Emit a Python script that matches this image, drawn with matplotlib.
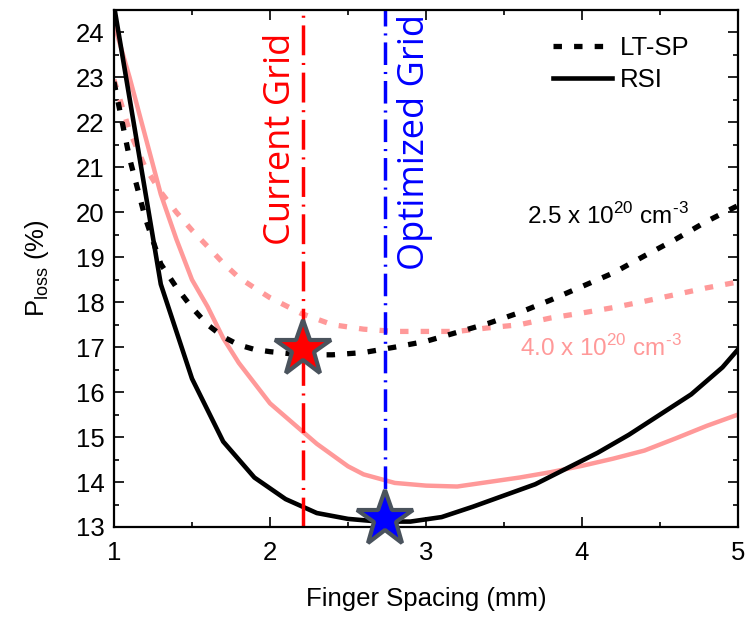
import matplotlib
matplotlib.use('Agg')
import matplotlib.pyplot as plt
from matplotlib.ticker import MultipleLocator

plt.rcParams['font.family'] = ['Liberation Sans', 'DejaVu Sans']
plt.rcParams['mathtext.fontset'] = 'custom'
plt.rcParams['mathtext.rm'] = 'Liberation Sans'

# RSI curves (solid)
x_rsi_25 = [1.0, 1.3, 1.5, 1.7, 1.9, 2.1, 2.3, 2.5, 2.7, 2.9, 3.1, 3.3, 3.5,
            3.7, 3.9, 4.1, 4.3, 4.5, 4.7, 4.9, 5.0]
y_rsi_25 = [24.6, 18.4, 16.3, 14.9, 14.1, 13.62, 13.31, 13.18, 13.12, 13.12,
            13.22, 13.45, 13.70, 13.95, 14.3, 14.65, 15.05, 15.5, 15.95,
            16.55, 16.95]

x_rsi_40 = [1.0, 1.1, 1.2, 1.3, 1.4, 1.5, 1.6, 1.7, 1.8, 1.9, 2.0, 2.1, 2.2,
            2.3, 2.4, 2.5, 2.6, 2.8, 3.0, 3.2, 3.4, 3.6, 3.8, 4.0, 4.2, 4.4,
            4.6, 4.8, 5.0]
y_rsi_40 = [24.2, 23.0, 21.7, 20.4, 19.4, 18.5, 17.9, 17.2, 16.65, 16.2,
            15.75, 15.45, 15.15, 14.85, 14.6, 14.35, 14.17, 13.98, 13.92,
            13.9, 14.0, 14.1, 14.22, 14.36, 14.52, 14.7, 14.97, 15.25, 15.5]

# LT-SP curves (dotted)
x_ltsp = [1.0, 1.1, 1.2, 1.3, 1.4, 1.5, 1.6, 1.7, 1.8, 1.9, 2.0, 2.2, 2.4,
          2.6, 2.8, 3.0, 3.2, 3.4, 3.6, 3.8, 4.0, 4.2, 4.4, 4.6, 4.8, 5.0]
y_ltsp_25 = [22.9, 21.2, 19.88, 18.85, 18.33, 17.88, 17.5, 17.23, 17.05,
             16.95, 16.9, 16.83, 16.83, 16.88, 17.0, 17.13, 17.33, 17.53,
             17.77, 18.05, 18.35, 18.65, 19.03, 19.4, 19.8, 20.15]
y_ltsp_40 = [22.95, 21.8, 21.0, 20.45, 20.0, 19.6, 19.24, 18.87, 18.55, 18.32,
             18.1, 17.75, 17.5, 17.4, 17.35, 17.35, 17.35, 17.43, 17.5, 17.65,
             17.76, 17.88, 18.02, 18.17, 18.32, 18.45]

# grid designs
current_x, current_y = 2.21, 16.97
optimized_x, optimized_y = 2.74, 13.17

pink = '#ff9999'
fs = 18.5

fig = plt.figure(figsize=(7.46, 6.17), dpi=100)
ax = fig.add_axes([0.1528, 0.1459, 0.9893 - 0.1528, 0.9838 - 0.1459])

dots = (0, (1.6, 2.3))
ax.plot(x_ltsp, y_ltsp_40, color=pink, lw=3.8, ls=dots)
ax.plot(x_rsi_40, y_rsi_40, color=pink, lw=3.2)
ax.plot(x_ltsp, y_ltsp_25, color='black', lw=3.8, ls=dots, label='LT-SP')
ax.plot(x_rsi_25, y_rsi_25, color='black', lw=3.3, label='RSI')

ax.axvline(current_x, color='red', lw=2.5, dashes=(8.6, 2.2, 0.6, 2.2))
ax.axvline(optimized_x, color='blue', lw=2.5, dashes=(6.5, 2.0, 0.6, 2.0))

ax.plot(current_x, current_y, marker='*', ms=42, mfc='red', mec='#4a535d',
        mew=3, zorder=5)
ax.plot(optimized_x, optimized_y, marker='*', ms=42, mfc='blue',
        mec='#4a535d', mew=3, zorder=5, clip_on=False)

ax.text(2.07, 24.0, 'Current Grid', rotation=90, color='red', fontsize=26,
        family=['Open Sans', 'DejaVu Sans'], ha='center', va='top')
ax.text(2.93, 24.42, 'Optimized Grid', rotation=90, color='blue', fontsize=26,
        family=['Open Sans', 'DejaVu Sans'], ha='center', va='top')

ax.text(3.65, 19.75, r'2.5 x 10$^{20}$ cm$^{\text{-3}}$', fontsize=17.5,
        color='black')
ax.text(3.6, 16.8, r'4.0 x 10$^{20}$ cm$^{\text{-3}}$', fontsize=17.5,
        color=pink)

ax.legend(loc='upper left', bbox_to_anchor=(0.7035, 0.95), frameon=False,
          fontsize=fs, handlelength=2.3, handletextpad=0.3,
          labelspacing=0.3, borderaxespad=0, borderpad=0)

ax.set_xlim(1, 5)
ax.set_ylim(13, 24.5)
ax.xaxis.set_major_locator(MultipleLocator(1))
ax.xaxis.set_minor_locator(MultipleLocator(0.5))
ax.yaxis.set_major_locator(MultipleLocator(1))
ax.yaxis.set_minor_locator(MultipleLocator(0.5))
ax.tick_params(which='both', direction='in', top=True, right=True,
               labelsize=fs, width=1.2)
ax.tick_params(which='major', length=7)
ax.tick_params(which='minor', length=3.5)
ax.tick_params(axis='x', pad=10)
ax.tick_params(axis='y', pad=7)
for s in ax.spines.values():
    s.set_linewidth(1.6)

ax.set_xlabel('Finger Spacing (mm)', fontsize=fs, labelpad=16)
ax.set_ylabel(r'P$_{\mathregular{loss}}$ (%)', fontsize=fs, labelpad=18)

fig.savefig('out.png', dpi=100)
